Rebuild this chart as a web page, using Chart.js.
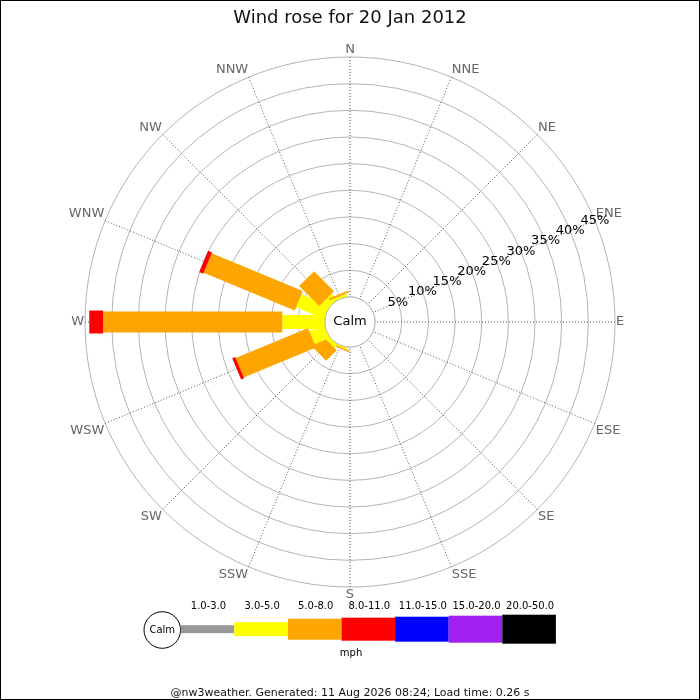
<!DOCTYPE html>
<html>
<head>
<meta charset="utf-8">
<title>Wind rose</title>
<script src="https://cdn.jsdelivr.net/npm/chart.js@4.4.1/dist/chart.umd.min.js"></script>
<style>
  body { margin: 0; background: #fff; }
  canvas { display: block; }
</style>
</head>
<body>
<canvas id="rose" width="700" height="700"></canvas>
<script>
// directions, clockwise from north
var directions = ['N', 'NNE', 'NE', 'ENE', 'E', 'ESE', 'SE', 'SSE',
                  'S', 'SSW', 'SW', 'WSW', 'W', 'WNW', 'NW', 'NNW'];
// speed classes (mph)
var speedBins = ['1.0-3.0', '3.0-5.0', '5.0-8.0', '8.0-11.0', '11.0-15.0', '15.0-20.0', '20.0-50.0'];
var binColors = ['#999999', '#ffff00', '#ffa500', '#ff0000', '#0000ff', '#a020f0', '#000000'];
var barWidths = [8, 14, 21, 23, 25, 27, 29];

// % of time per direction, one list per speed class
//            N  NNE NE ENE E ESE SE SSE S  SSW  SW   WSW   W     WNW   NW   NNW
var pct_1_3   = [0, 0, 0, 0, 0, 0, 0, 0, 0, 0,   0,   0,    0,    0,    0,   0];
var pct_3_5   = [0, 0, 0, 0, 0, 0, 0, 0, 0, 0.3, 0.8, 3.0,  8.0,  5.7,  1.5, 0.5];
var pct_5_8   = [0, 0, 0, 0, 0, 0, 0, 0, 0, 0.3, 2.8, 14.7, 33.6, 18.5, 5.3, 0.4];
var pct_8_11  = [0, 0, 0, 0, 0, 0, 0, 0, 0, 0,   0,   0.6,  2.6,  0.8,  0,   0];
var pct_11_15 = [0, 0, 0, 0, 0, 0, 0, 0, 0, 0,   0,   0,    0,    0,    0,   0];
var pct_15_20 = [0, 0, 0, 0, 0, 0, 0, 0, 0, 0,   0,   0,    0,    0,    0,   0];
var pct_20_50 = [0, 0, 0, 0, 0, 0, 0, 0, 0, 0,   0,   0,    0,    0,    0,   0];

// rings
var tickValues = [5, 10, 15, 20, 25, 30, 35, 40, 45];
var tickLabels = ['5%', '10%', '15%', '20%', '25%', '30%', '35%', '40%', '45%'];
var calmOffset = -4.7;   // leaves room for the calm circle in the middle
var tickAxis = 'ENE';    // ring labels run along this direction

var seriesData = [pct_1_3, pct_3_5, pct_5_8, pct_8_11, pct_11_15, pct_15_20, pct_20_50];

Chart.defaults.font.family = 'DejaVu Sans';
Chart.defaults.color = '#111';

//------------------------------------------------------
// stacked bars along each direction
var roseBars = {
  id: 'roseBars',
  beforeDatasetsDraw: function(chart) {
    var scale = chart.scales.r;
    var ctx = chart.ctx;
    ctx.save();
    for (var i = 0; i < directions.length; i++) {
      var cum = 0;
      chart.data.datasets.forEach(function(ds, k) {
        var v = ds.data[i];
        if (!v) return;
        var r0 = cum === 0 ? 0 : scale.getDistanceFromCenterForValue(cum);
        cum += v;
        var r1 = scale.getDistanceFromCenterForValue(cum);
        var p0 = scale.getPointPosition(i, r0);
        var p1 = scale.getPointPosition(i, r1);
        var a = p1.angle;
        var hw = barWidths[k] / 2;
        var nx = -Math.sin(a) * hw, ny = Math.cos(a) * hw;
        ctx.beginPath();
        ctx.moveTo(p0.x + nx, p0.y + ny);
        ctx.lineTo(p1.x + nx, p1.y + ny);
        ctx.lineTo(p1.x - nx, p1.y - ny);
        ctx.lineTo(p0.x - nx, p0.y - ny);
        ctx.closePath();
        ctx.fillStyle = ds.backgroundColor;
        ctx.fill();
      });
    }
    ctx.restore();
  },
  afterDatasetsDraw: function(chart) {
    var scale = chart.scales.r;
    var ctx = chart.ctx;
    ctx.save();
    // calm circle
    var rc = scale.getDistanceFromCenterForValue(0);
    ctx.beginPath();
    ctx.arc(scale.xCenter, scale.yCenter, rc, 0, Math.PI * 2);
    ctx.fillStyle = '#fff';
    ctx.fill();
    ctx.strokeStyle = '#b4b4b4';
    ctx.lineWidth = 1;
    ctx.stroke();
    ctx.fillStyle = '#000';
    ctx.font = '13px "DejaVu Sans"';
    ctx.textAlign = 'center';
    ctx.textBaseline = 'middle';
    ctx.fillText('Calm', scale.xCenter, scale.yCenter);
    // ring labels
    var idx = directions.indexOf(tickAxis);
    for (var t = 0; t < tickValues.length; t++) {
      var p = scale.getPointPosition(idx, scale.getDistanceFromCenterForValue(tickValues[t]));
      ctx.fillText(tickLabels[t], p.x, p.y);
    }
    ctx.restore();
  }
};

// speed key under the rose
var speedKey = {
  id: 'speedKey',
  beforeDraw: function(chart) {
    var ctx = chart.ctx;
    ctx.save();
    ctx.fillStyle = '#fff';
    ctx.fillRect(0, 0, chart.width, chart.height);
    ctx.restore();
  },
  afterDraw: function(chart) {
    var ctx = chart.ctx;
    var x0 = 180.7, segW = 53.6, yMid = 629.2;
    ctx.save();
    // calm marker
    ctx.beginPath();
    ctx.arc(162.3, 630, 18.3, 0, Math.PI * 2);
    ctx.fillStyle = '#fff';
    ctx.fill();
    ctx.strokeStyle = '#000';
    ctx.lineWidth = 1;
    ctx.stroke();
    ctx.fillStyle = '#000';
    ctx.font = '10px "DejaVu Sans"';
    ctx.textAlign = 'center';
    ctx.textBaseline = 'middle';
    ctx.fillText('Calm', 162.3, 630);
    for (var k = 0; k < speedBins.length; k++) {
      var h = barWidths[k];
      ctx.fillStyle = binColors[k];
      ctx.fillRect(x0 + k * segW, yMid - h / 2, segW, h);
      ctx.fillStyle = '#000';
      ctx.fillText(speedBins[k], x0 + k * segW + segW / 2 + 1, 606.5);
    }
    ctx.fillText('mph', 351, 653);
    // frame
    ctx.strokeStyle = '#000';
    ctx.strokeRect(0.5, 0.5, chart.width - 1, chart.height - 1);
    ctx.restore();
  }
};

var datasets = speedBins.map(function(bin, k) {
  return {
    label: bin,
    data: seriesData[k],
    backgroundColor: binColors[k],
    borderWidth: 0,
    fill: false,
    showLine: false,
    pointRadius: 0,
    pointHitRadius: 0
  };
});

var ctx = document.getElementById('rose').getContext('2d');
var myChart = new Chart(ctx, {
  type: 'radar',
  data: {
    labels: directions,
    datasets: datasets
  },
  options: {
    responsive: false,
    animation: false,
    events: [],
    layout: { padding: 0 },
    plugins: {
      legend: { display: false },
      tooltip: { enabled: false },
      filler: { propagate: false },
      title: {
        display: true,
        text: 'Wind rose for 20 Jan 2012',
        color: '#111',
        font: { size: 18, weight: 'normal' },
        padding: { top: 7.6, bottom: 13.8 }
      },
      subtitle: {
        display: true,
        position: 'bottom',
        text: '@nw3weather. Generated: 11 Aug 2026 08:24; Load time: 0.26 s',
        color: '#111',
        font: { size: 11, weight: 'normal' },
        padding: { top: 85.4, bottom: 0.4 }
      }
    },
    scales: {
      r: {
        min: calmOffset,
        max: 45,
        afterBuildTicks: function(scale) {
          scale.ticks = [0].concat(tickValues).map(function(v) { return { value: v }; });
        },
        ticks: { display: false },
        grid: { circular: true, color: '#b4b4b4', lineWidth: 1 },
        angleLines: { display: true, color: '#555', lineWidth: 1, borderDash: [1, 2] },
        pointLabels: {
          display: true,
          color: '#666',
          padding: 1,
          font: { size: 13, lineHeight: 1 }
        }
      }
    }
  },
  plugins: [roseBars, speedKey]
});
</script>
</body>
</html>
